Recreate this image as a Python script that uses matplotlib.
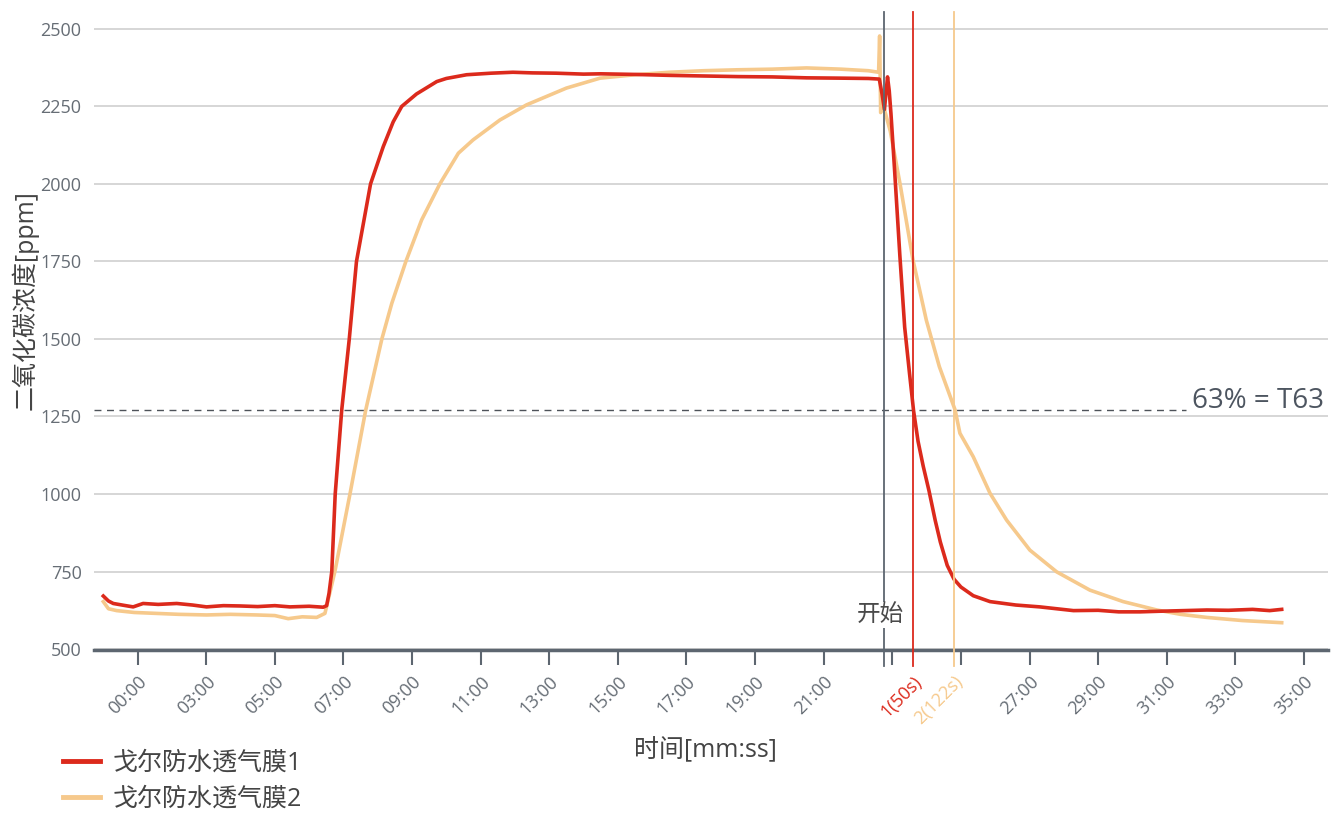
import matplotlib
matplotlib.use("Agg")
import matplotlib.pyplot as plt
import matplotlib.transforms as mtransforms

plt.rcParams['font.family'] = ['Open Sans', 'Noto Sans CJK SC', 'DejaVu Sans']

# time in minutes, CO2 in ppm
red_t = [0.00, 0.15, 0.29, 0.60, 0.87, 1.16, 1.60, 2.14, 2.60, 3.01, 3.50, 3.98, 4.50,
         5.00, 5.44, 6.00, 6.41, 6.51, 6.58, 6.66, 6.76, 6.95, 7.17, 7.38, 7.79, 8.16,
         8.45, 8.70, 9.13, 9.72, 10.00, 10.59, 11.30, 11.94, 12.50, 13.20, 14.00, 14.50,
         15.50, 16.50, 17.50, 18.50, 19.50, 20.50, 21.50, 22.30, 22.62, 22.70, 22.77,
         22.86, 22.91, 22.96, 23.06, 23.22, 23.36, 23.50, 23.62, 23.75, 23.90, 24.07,
         24.25, 24.40, 24.60, 24.80, 25.00, 25.36, 25.85, 26.60, 27.30, 28.28, 29.00,
         29.60, 30.22, 30.80, 31.50, 32.17, 32.80, 33.50, 34.00, 34.35]
red_v = [671, 655, 647, 641, 636, 647, 644, 647, 642, 636, 640, 639, 637,
         640, 636, 638, 635, 640, 680, 750, 1000, 1271, 1500, 1750, 2000, 2120,
         2200, 2250, 2290, 2330, 2340, 2352, 2357, 2360, 2358, 2357, 2354, 2355,
         2353, 2350, 2348, 2346, 2345, 2342, 2341, 2340, 2338, 2290, 2240,
         2345, 2300, 2227, 2055, 1768, 1538, 1390, 1268, 1170, 1090, 1010,
         915, 845, 770, 725, 700, 672, 653, 642, 636, 624, 625,
         620, 620, 622, 624, 626, 625, 628, 624, 628]

org_t = [0.00, 0.15, 0.39, 0.90, 1.55, 2.20, 3.01, 3.70, 4.47, 5.00, 5.39, 5.80, 6.22,
         6.46, 6.60, 6.75, 7.19, 7.65, 8.12, 8.41, 8.82, 9.28, 9.81, 10.35, 10.78, 11.56,
         12.34, 13.50, 14.48, 15.50, 16.50, 17.50, 18.50, 19.50, 20.50, 21.50, 22.30,
         22.60, 22.63, 22.66, 22.72, 22.94, 23.23, 23.60, 23.99, 24.37, 24.83, 24.97,
         25.36, 25.85, 26.33, 27.01, 27.79, 28.76, 29.73, 30.71, 31.40, 32.17, 33.20, 34.35]
org_v = [653, 630, 624, 618, 615, 612, 610, 612, 610, 608, 598, 604, 602,
         615, 680, 750, 1000, 1271, 1500, 1615, 1750, 1884, 2000, 2099, 2142, 2206,
         2255, 2309, 2341, 2352, 2360, 2365, 2368, 2370, 2374, 2370, 2365,
         2360, 2477, 2230, 2260, 2170, 1997, 1756, 1561, 1411, 1271, 1196,
         1120, 1002, 916, 819, 749, 690, 653, 626, 612, 602, 592, 585]

tick_pos = [1, 3, 5, 7, 9, 11, 13, 15, 17, 19, 21, 23, 25, 27, 29, 31, 33, 35]
tick_labels = ["00:00", "03:00", "05:00", "07:00", "09:00", "11:00", "13:00", "15:00",
               "17:00", "19:00", "21:00", "", "", "27:00", "29:00", "31:00", "33:00", "35:00"]
y_ticks = [500, 750, 1000, 1250, 1500, 1750, 2000, 2250, 2500]

start_t = 22.77          # 开始
t63_red = 23.6           # 1 (50 s)
t63_org = 24.8           # 2 (122 s)
t63_level = 1271

RED = '#dc2a1c'
ORG = '#f6c98c'
DARK = '#5d6670'
GRAY = '#666d75'

fig = plt.figure(figsize=(13.34, 8.13), dpi=100)
ax = fig.add_axes([0.0705, 0.2005, 0.925, 0.785])

for y in y_ticks:
    ax.axhline(y, color='#cfcfcf', lw=1.2, zorder=0)

ax.plot(org_t, org_v, color=ORG, lw=2.6, zorder=3, label='戈尔防水透气膜2')
ax.plot(red_t, red_v, color=RED, lw=2.6, zorder=4, label='戈尔防水透气膜1')

ax.set_xlim(-0.27, 35.7)
ax.set_ylim(497, 2555)

# T63 dashed line and label
ax.hlines(t63_level, -0.27, 31.55, colors='#4d5259', linestyles=(0, (5, 4)), lw=1.0, zorder=2)
ax.text(31.75, 1300, '63% = T63', fontsize=20, color='#4d5560', va='center', ha='left')

# vertical markers
ax.axvline(start_t, ymin=-0.025, ymax=1, color=DARK, lw=1.3, clip_on=False, zorder=5)
ax.axvline(t63_red, ymin=-0.025, ymax=1, color=RED, lw=1.3, clip_on=False, zorder=5)
ax.axvline(t63_org, ymin=-0.025, ymax=1, color=ORG, lw=1.3, clip_on=False, zorder=5)
ax.text(start_t - 0.12, 610, '开始', fontsize=17, color='#4a4a4a', ha='center', va='center',
        zorder=6, bbox=dict(facecolor='white', edgecolor='none', pad=1))

for s in ['top', 'right', 'left']:
    ax.spines[s].set_visible(False)
ax.spines['bottom'].set_color(DARK)
ax.spines['bottom'].set_linewidth(2.5)

ax.set_yticks(y_ticks)
ax.set_yticklabels([str(v) for v in y_ticks])
ax.tick_params(axis='y', length=0, pad=9, labelsize=13, labelcolor=GRAY)

ax.set_xticks(tick_pos)
ax.set_xticklabels(tick_labels, rotation=45, ha='right', va='top', rotation_mode='anchor')
ax.tick_params(axis='x', length=11, width=1.5, color=DARK, pad=5, labelsize=13, labelcolor=GRAY)

# coloured T63 time labels
trans = mtransforms.blended_transform_factory(ax.transData, ax.transAxes)
off = mtransforms.ScaledTranslation(0, -16 / 72, fig.dpi_scale_trans)
ax.text(t63_red, 0, '1(50s)', transform=trans + off, rotation=45, ha='right', va='top',
        rotation_mode='anchor', fontsize=13, color=RED)
ax.text(t63_org, 0, '2(122s)', transform=trans + off, rotation=45, ha='right', va='top',
        rotation_mode='anchor', fontsize=13, color=ORG)

fig.text(705 / 1334, 1 - 750 / 813, '时间[mm:ss]', fontsize=18, color='#444444',
         ha='center', va='center')
fig.text(25 / 1334, 1 - 300 / 813, '二氧化碳浓度[ppm]', fontsize=18, color='#444444',
         ha='center', va='center', rotation=90)

handles, labels = ax.get_legend_handles_labels()
fig.legend(handles[::-1], labels[::-1], loc='upper left',
           bbox_to_anchor=(40 / 1334, 1 - 728 / 813), frameon=False, fontsize=18,
           handlelength=1.5, handletextpad=0.5, labelspacing=0.45, labelcolor='#444444')
for h in fig.legends[0].get_lines():
    h.set_linewidth(3.5)

fig.savefig('out.png', dpi=100)
